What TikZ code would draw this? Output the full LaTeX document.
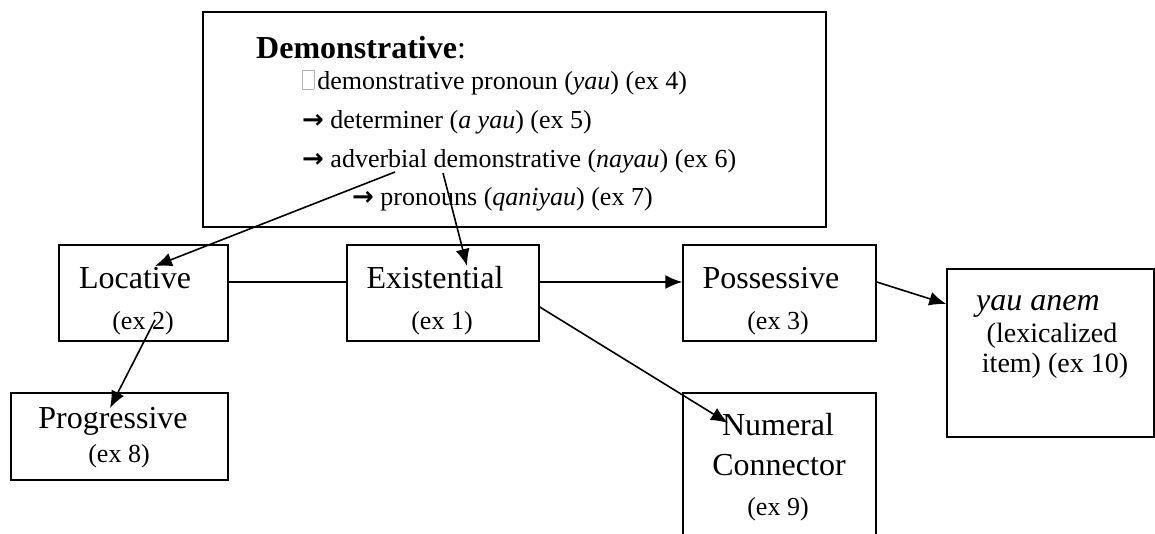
\documentclass[tikz,border=0pt]{standalone}
\usepackage{fontspec}
\setmainfont{Liberation Serif}
\newfontfamily\arrowfont{DejaVu Sans}
\usetikzlibrary{arrows.meta,positioning}

\newcommand\nofont{{\color{gray!60}\fboxsep=0pt\fboxrule=0.6pt\fbox{\rule{0pt}{0.72em}\hspace{0.42em}}}\kern3pt}
\newcommand\goes{{\arrowfont\bfseries →}}

\begin{document}
\begin{tikzpicture}[x=1pt, y=-1pt,
  box/.style={draw, line width=1.5pt, inner sep=0pt},
  big/.style={font=\fontsize{32}{36}\selectfont, anchor=base, inner sep=0pt},
  small/.style={font=\fontsize{26}{30}\selectfont, anchor=base, inner sep=0pt},
  item/.style={small, anchor=base west},
  >={Latex[length=17pt,width=14pt]}]
\clip (0,0) rectangle (1155,533);
\fill[white] (0,0) rectangle (1155,533);

% boxes
\node[box, minimum width=623pt, minimum height=215pt] (demo) at (514.5,119.5) {};
\node[box, minimum width=169pt, minimum height=96pt]  (loc)  at (143.5,293) {};
\node[box, minimum width=192pt, minimum height=96pt]  (exist) at (443,293) {};
\node[box, minimum width=193pt, minimum height=96pt]  (poss) at (779.5,293) {};
\node[box, minimum width=217pt, minimum height=87pt]  (prog) at (119.5,436.5) {};
\node[box, minimum width=193pt, minimum height=160pt] (num)  at (779.5,473) {};
\node[box, minimum width=207pt, minimum height=168pt] (yau)  at (1050.5,353) {};

% texts
\node[big, anchor=base west] (demotitle) at (256,58) {\textbf{Demonstrative}:};
\node[item] (demoa) at (302,89)  {\nofont demonstrative pronoun (\textit{yau}) (ex 4)};
\node[item] (demob) at (302,128) {\goes\ determiner (\textit{a yau}) (ex 5)};
\node[item] (democ) at (302,167) {\goes\ adverbial demonstrative (\textit{nayau}) (ex 6)};
\node[item] (demod) at (352,205) {\goes\ pronouns (\textit{qaniyau}) (ex 7)};

\node[big]   (loct)   at (135,288) {Locative};
\node[small] (locex)  at (143,329) {(ex 2)};
\node[big]   (existt) at (435,288) {Existential};
\node[small] (existex) at (442,329) {(ex 1)};
\node[big]   (posst)  at (771,288) {Possessive};
\node[small] (possex) at (778,329) {(ex 3)};
\node[big]   (progt)  at (113,428) {Progressive};
\node[small] (progex) at (119,462) {(ex 8)};
\node[big]   (numt)   at (778,435) {Numeral};
\node[big]   (numc)   at (779,475) {Connector};
\node[small] (numex)  at (778,515) {(ex 9)};
\node[big, anchor=base west] (yaut) at (976,310) {\textit{yau anem}};
\node[font=\fontsize{28}{32}\selectfont, anchor=base, inner sep=0pt] (yaul) at (1052,342) {(lexicalized};
\node[font=\fontsize{28}{32}\selectfont, anchor=base, inner sep=0pt] (yaui) at (1055,372) {item) (ex 10)};

% end points inside the boxes
\coordinate (fromloc)   at (395,172);
\coordinate (fromexist) at (443,173);
\coordinate (toloc)     at (155,266);
\coordinate (toexist)   at (467,266);
\coordinate (locdown)   at (155,320);
\coordinate (toprog)    at (110,408);
\coordinate (tonum)     at (728,423);

\path[line width=1.6pt]
    (fromloc) edge[->] (toloc)
    (fromexist) edge[->] (toexist)
    ([yshift=11pt]loc.east) edge ([yshift=11pt]exist.west)
    ([yshift=11pt]exist.east) edge[->] ([yshift=11pt]poss.west)
    ([yshift=11pt]poss.east) edge[->] ([yshift=49pt]yau.west)
    ([yshift=-14pt]exist.east) edge[->] (tonum)
    (locdown) edge[->] (toprog)
; %-path-%
\end{tikzpicture}
\end{document}
